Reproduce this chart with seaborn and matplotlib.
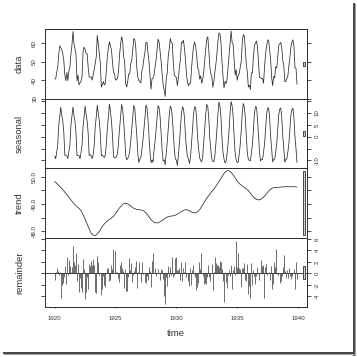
import numpy as np
import pandas as pd
import matplotlib
matplotlib.use("Agg")
import matplotlib.pyplot as plt
from matplotlib.patches import Rectangle
import seaborn as sns

start_year = 1920
frequency = 12
data = [
    40.6, 40.8, 44.4, 46.7, 54.1, 58.5, 57.7, 56.4, 54.3, 50.5, 42.9, 39.8,
    44.2, 39.8, 45.1, 47.0, 54.1, 58.7, 66.3, 59.9, 57.0, 54.2, 39.7, 42.8,
    37.5, 38.7, 39.5, 42.1, 55.7, 57.8, 56.8, 54.3, 54.3, 47.1, 41.8, 41.7,
    41.8, 40.1, 42.9, 45.8, 49.2, 52.7, 64.2, 59.6, 54.4, 49.2, 36.3, 37.6,
    39.3, 37.5, 38.3, 45.5, 53.2, 57.7, 60.8, 58.2, 56.4, 49.8, 44.4, 43.6,
    40.0, 40.5, 40.8, 45.1, 53.8, 59.4, 63.5, 61.0, 53.0, 50.0, 38.1, 36.3,
    39.2, 43.4, 43.4, 48.9, 50.6, 56.8, 62.5, 62.0, 57.5, 46.7, 41.6, 39.8,
    39.4, 38.5, 45.3, 47.1, 51.7, 55.0, 60.4, 60.5, 54.7, 50.3, 42.3, 35.2,
    40.8, 41.1, 42.8, 47.3, 50.9, 56.4, 62.2, 60.5, 55.4, 50.2, 43.0, 37.3,
    34.8, 31.3, 41.0, 43.9, 53.1, 56.9, 62.5, 60.3, 59.8, 49.2, 42.9, 41.9,
    41.6, 37.1, 41.2, 46.9, 51.2, 60.4, 60.1, 61.6, 57.0, 50.9, 43.0, 38.8,
    37.1, 38.4, 38.4, 46.5, 53.5, 58.4, 60.6, 58.2, 53.8, 46.6, 45.5, 40.6,
    42.4, 38.4, 40.3, 44.6, 50.9, 57.0, 62.1, 63.5, 56.3, 47.3, 43.6, 41.8,
    36.2, 39.3, 44.5, 48.7, 54.2, 60.8, 65.5, 64.9, 60.1, 50.2, 42.1, 35.8,
    39.4, 38.2, 40.4, 46.9, 53.4, 59.6, 66.5, 60.4, 59.2, 51.2, 42.8, 45.8,
    40.0, 42.6, 43.5, 47.1, 50.0, 60.5, 64.6, 64.0, 56.8, 48.6, 44.2, 36.4,
    37.3, 35.0, 44.0, 43.9, 52.7, 58.6, 60.0, 61.1, 58.1, 49.6, 41.6, 41.3,
    40.8, 41.0, 38.4, 47.4, 54.1, 58.6, 61.4, 61.8, 56.3, 50.9, 41.4, 37.1,
    42.1, 41.2, 47.3, 46.6, 52.4, 59.0, 59.6, 60.4, 57.0, 50.7, 47.8, 39.2,
    39.4, 40.9, 42.4, 47.8, 52.4, 58.0, 60.7, 61.8, 58.2, 46.7, 46.6, 37.8,
]
seasonal = [
    -8.1, -9.3, -6.3, -3.4, 4.7, 8.6, 12.4, 8.9, 6.5, 1.7, -7.9, -7.7,
    -8.1, -9.2, -6.4, -3.4, 4.7, 8.5, 12.5, 9.0, 6.5, 1.6, -7.9, -7.8,
    -8.0, -9.3, -6.6, -3.4, 4.6, 8.4, 12.9, 9.3, 6.6, 1.6, -7.9, -7.6,
    -8.2, -9.2, -7.5, -3.5, 4.5, 8.3, 13.3, 9.8, 6.7, 1.1, -8.0, -7.7,
    -8.4, -8.7, -7.6, -2.9, 3.9, 8.4, 13.7, 10.8, 6.5, 0.6, -8.3, -8.9,
    -8.8, -8.4, -7.1, -2.2, 3.5, 8.5, 13.6, 11.6, 6.6, 0.3, -7.9, -9.7,
    -9.2, -8.2, -6.2, -1.9, 3.2, 8.3, 13.2, 12.0, 6.5, 0.4, -7.4, -10.9,
    -9.4, -8.8, -5.4, -1.6, 2.9, 7.8, 13.3, 12.3, 7.3, 0.6, -6.6, -10.9,
    -9.7, -10.8, -5.7, -2.0, 3.1, 8.1, 13.1, 12.2, 8.2, 1.2, -5.9, -10.2,
    -9.8, -11.8, -6.8, -2.4, 3.4, 9.1, 12.9, 12.0, 8.3, 1.2, -5.4, -9.4,
    -9.8, -12.1, -8.1, -2.7, 3.6, 9.6, 12.6, 11.8, 8.0, 0.2, -5.0, -8.5,
    -9.5, -11.3, -8.3, -2.7, 3.4, 9.8, 12.6, 12.4, 7.5, -0.5, -5.2, -9.0,
    -10.0, -10.6, -8.2, -2.6, 3.5, 9.7, 13.6, 12.7, 7.7, -0.8, -5.8, -9.4,
    -10.4, -10.5, -7.9, -2.8, 3.0, 9.6, 14.6, 12.9, 8.2, -0.6, -6.6, -9.4,
    -11.0, -10.5, -7.2, -3.0, 2.6, 9.9, 14.8, 13.0, 8.6, -0.1, -6.9, -9.8,
    -10.9, -10.7, -7.3, -3.3, 2.7, 9.9, 14.0, 12.6, 8.4, 0.3, -6.9, -9.5,
    -10.0, -10.1, -7.1, -3.3, 2.9, 9.8, 12.7, 12.4, 7.9, 0.5, -6.5, -10.2,
    -9.6, -9.6, -6.5, -3.0, 3.1, 9.5, 11.9, 12.2, 7.9, 0.1, -5.4, -10.6,
    -9.5, -9.5, -6.5, -2.9, 3.1, 9.3, 11.6, 12.1, 7.9, 0.0, -5.1, -10.8,
    -9.4, -9.4, -6.4, -2.8, 3.2, 9.3, 11.4, 12.0, 7.9, -0.1, -4.9, -10.9,
]
trend = [
    49.82, 49.79, 49.75, 49.72, 49.68, 49.64, 49.60, 49.56, 49.52, 49.48, 49.43, 49.38,
    49.34, 49.29, 49.24, 49.19, 49.15, 49.10, 49.06, 49.01, 48.97, 48.94, 48.90, 48.87,
    48.84, 48.80, 48.75, 48.68, 48.61, 48.53, 48.44, 48.35, 48.25, 48.16, 48.07, 48.00,
    47.93, 47.89, 47.86, 47.85, 47.85, 47.87, 47.90, 47.95, 48.00, 48.06, 48.12, 48.18,
    48.23, 48.27, 48.31, 48.35, 48.38, 48.41, 48.43, 48.46, 48.48, 48.52, 48.55, 48.60,
    48.65, 48.70, 48.75, 48.81, 48.86, 48.90, 48.94, 48.98, 49.01, 49.02, 49.02, 49.02,
    49.00, 48.98, 48.95, 48.92, 48.89, 48.87, 48.84, 48.83, 48.81, 48.80, 48.79, 48.79,
    48.79, 48.78, 48.77, 48.76, 48.74, 48.71, 48.67, 48.63, 48.58, 48.53, 48.48, 48.43,
    48.39, 48.36, 48.33, 48.31, 48.31, 48.31, 48.31, 48.33, 48.35, 48.37, 48.40, 48.42,
    48.45, 48.48, 48.50, 48.52, 48.53, 48.54, 48.55, 48.56, 48.56, 48.57, 48.58, 48.59,
    48.61, 48.63, 48.65, 48.67, 48.70, 48.72, 48.74, 48.76, 48.78, 48.79, 48.79, 48.78,
    48.77, 48.75, 48.73, 48.71, 48.69, 48.68, 48.67, 48.68, 48.69, 48.72, 48.75, 48.79,
    48.85, 48.91, 48.97, 49.03, 49.09, 49.15, 49.21, 49.26, 49.31, 49.36, 49.41, 49.46,
    49.50, 49.54, 49.59, 49.65, 49.70, 49.76, 49.82, 49.88, 49.94, 50.00, 50.06, 50.11,
    50.16, 50.19, 50.21, 50.22, 50.21, 50.19, 50.15, 50.11, 50.06, 50.01, 49.95, 49.90,
    49.84, 49.79, 49.75, 49.72, 49.69, 49.66, 49.63, 49.61, 49.58, 49.56, 49.52, 49.49,
    49.44, 49.40, 49.35, 49.30, 49.26, 49.22, 49.19, 49.17, 49.16, 49.15, 49.15, 49.16,
    49.19, 49.22, 49.25, 49.29, 49.33, 49.38, 49.42, 49.47, 49.51, 49.54, 49.57, 49.58,
    49.59, 49.60, 49.60, 49.60, 49.61, 49.61, 49.61, 49.62, 49.62, 49.62, 49.63, 49.63,
    49.63, 49.63, 49.63, 49.63, 49.63, 49.63, 49.63, 49.63, 49.63, 49.63, 49.62, 49.62,
]
remainder = [
    -1.1, 0.3, 0.9, 0.4, -0.3, 0.3, -4.3, -2.0, -1.7, -0.7, 1.3, -1.8,
    2.9, -0.2, 2.3, 1.2, 0.3, 1.1, 4.8, 1.9, 1.5, 3.6, -1.3, 1.7,
    -3.3, -0.8, -2.6, -3.2, 2.5, 0.8, -4.5, -3.3, -0.6, -2.7, 1.6, 1.3,
    2.1, 1.5, 2.5, 1.4, -3.2, -3.4, 3.0, 1.9, -0.3, 0.0, -3.8, -2.8,
    -0.5, -2.1, -2.4, 0.0, 0.9, 0.9, -1.3, -1.1, 1.5, 0.7, 4.2, 3.9,
    0.2, 0.2, -0.8, -1.5, 1.5, 2.0, 1.0, 0.4, -2.6, 0.7, -3.0, -3.0,
    -0.6, 2.7, 0.6, 1.8, -1.5, -0.3, 0.4, 1.1, 2.2, -2.5, 0.3, 1.9,
    0.0, -1.5, 1.9, -0.1, 0.1, -1.5, -1.6, -0.4, -1.2, 1.1, 0.4, -2.4,
    2.1, 3.5, 0.1, 1.0, -0.5, 0.0, 0.8, 0.0, -1.1, 0.7, 0.5, -0.9,
    -3.9, -5.4, -0.7, -2.2, 1.2, -0.7, 1.1, -0.2, 2.9, -0.6, -0.3, 2.7,
    2.8, 0.6, 0.6, 1.0, -1.1, 2.0, -1.3, 1.0, 0.2, 1.9, -0.7, -1.4,
    -2.2, 1.0, -2.0, 0.5, 1.4, -0.1, -0.7, -2.9, -2.4, -1.6, 2.0, 0.8,
    3.6, 0.1, -0.5, -1.8, -1.7, -1.8, -0.7, 1.5, -0.7, -1.3, 0.0, 1.7,
    -2.9, 0.2, 2.8, 1.8, 1.5, 1.5, 1.1, 2.1, 2.0, 0.8, -1.4, -5.0,
    0.2, -1.5, -2.6, -0.3, 0.6, -0.5, 1.5, -2.7, 0.6, 1.3, -0.3, 5.7,
    1.1, 3.5, 1.0, 0.7, -2.4, 0.9, 0.9, 1.8, -1.2, -1.3, 1.6, -3.6,
    -2.2, -4.3, 1.8, -2.1, 0.5, -0.4, -1.9, -0.5, 1.1, -0.1, -1.1, 2.4,
    1.2, 1.4, -4.3, 1.1, 1.7, -0.2, 0.1, 0.2, -1.1, 1.2, -2.8, -1.9,
    2.0, 1.1, 4.2, -0.1, -0.3, 0.1, -1.6, -1.3, -0.5, 1.1, 3.2, 0.4,
    -0.8, 0.6, -0.8, 1.0, -0.4, -0.9, -0.4, 0.1, 0.7, -2.8, 1.9, -0.9,
]

series_names = ["data", "seasonal", "trend", "remainder"]
x_ticks = [1920, 1925, 1930, 1935, 1940]
y_ticks = {
    "data": [30, 40, 50, 60],
    "seasonal": [-10, -5, 0, 5, 10, 15],
    "trend": [48.0, 48.5, 49.0, 49.5, 50.0],
    "remainder": [-4, -2, 0, 2, 4, 6],
}
y_ticklabels = {
    "data": ["30", "40", "50", "60"],
    "seasonal": ["-10", "", "0", "5", "10", ""],
    "trend": ["48.0", "", "49.0", "", "50.0"],
    "remainder": ["-4", "-2", "0", "2", "4", "6"],
}

sns.set_style("ticks")
plt.rcParams["font.family"] = ["Liberation Sans", "DejaVu Sans"]

W = H = 357.0
fig = plt.figure(figsize=(W / 100, H / 100), dpi=100)
fig.patch.set_facecolor("white")
left_px, right_px = 45.0, 306.7
edges_px = [28.5, 99.0, 168.0, 238.0, 307.0]
ink = "#2a2a2a"
txt = "#333333"

time = start_year + np.arange(len(data)) / frequency
df = pd.DataFrame({"time": time, "data": data, "seasonal": seasonal,
                   "trend": trend, "remainder": remainder})
xr = time.max() - time.min()
xlim = (time.min() - 0.04 * xr, time.max() + 0.04 * xr)
dxbar = (xlim[1] - xlim[0]) / 64
bar_h = min(np.ptp(df[s].to_numpy()) for s in series_names)

for i, s in enumerate(series_names):
    top, bot = edges_px[i], edges_px[i + 1]
    ax = fig.add_axes([left_px / W, 1 - bot / H, (right_px - left_px) / W, (bot - top) / H])
    vals = df[s].to_numpy()
    lo, hi = vals.min(), vals.max()
    pad = 0.04 * (hi - lo)
    ax.set_xlim(*xlim)
    ax.set_ylim(lo - pad, hi + pad)
    if s != "remainder":
        sns.lineplot(data=df, x="time", y=s, ax=ax, color=ink, linewidth=0.55)
    else:
        ax.axhline(0, color=ink, lw=0.6)
        ax.vlines(df["time"], 0, df[s], color="#333333", lw=0.5)
    mid = (lo + hi) / 2
    ax.add_patch(Rectangle((xlim[1] - dxbar, mid - bar_h / 2), 0.6 * dxbar, bar_h,
                           facecolor="#d3d3d3", edgecolor=ink, lw=0.6, clip_on=False, zorder=5))
    for sp in ax.spines.values():
        sp.set_visible(True)
        sp.set_color(ink)
        sp.set_linewidth(0.7)
    ax.set_xlabel("")
    ax.set_ylabel("")
    ax.set_xticks(x_ticks)
    ax.set_yticks(y_ticks[s])
    ax.set_yticklabels(y_ticklabels[s])
    right = (i % 2 == 1)
    last = (i == len(series_names) - 1)
    ax.tick_params(axis="y", left=True, right=True, labelleft=not right, labelright=right,
                   length=2.6, width=0.6, color=ink, labelsize=4.4, labelcolor=txt, pad=3.0)
    ax.tick_params(axis="x", bottom=True, top=False, labelbottom=last,
                   length=1.0, width=0.6, color=ink, labelsize=4.4, labelcolor=txt, pad=5.5)
    for lbl in ax.get_yticklabels():
        lbl.set_rotation(90)
        lbl.set_va("center")
    fig.text(19.5 / W, 1 - ((top + bot) / 2) / H, s, rotation=90, ha="center", va="center",
             fontsize=6.8, color=txt)

fig.text(176 / W, 1 - 333 / H, "time", ha="center", va="center", fontsize=6.8, color=txt)

def px_rect(x0, y0, x1, y1, color):
    fig.add_artist(Rectangle((x0 / W, 1 - y1 / H), (x1 - x0) / W, (y1 - y0) / H,
                             transform=fig.transFigure, facecolor=color, edgecolor="none"))
px_rect(352.5, 3, 354.5, 355.5, "#4a4a4a")
px_rect(354.5, 4, 356, 356, "#a0a0a0")
px_rect(3, 351.5, 354.5, 353.5, "#4a4a4a")
px_rect(4, 353.5, 356, 355, "#a0a0a0")

fig.savefig("out.png", dpi=100)
